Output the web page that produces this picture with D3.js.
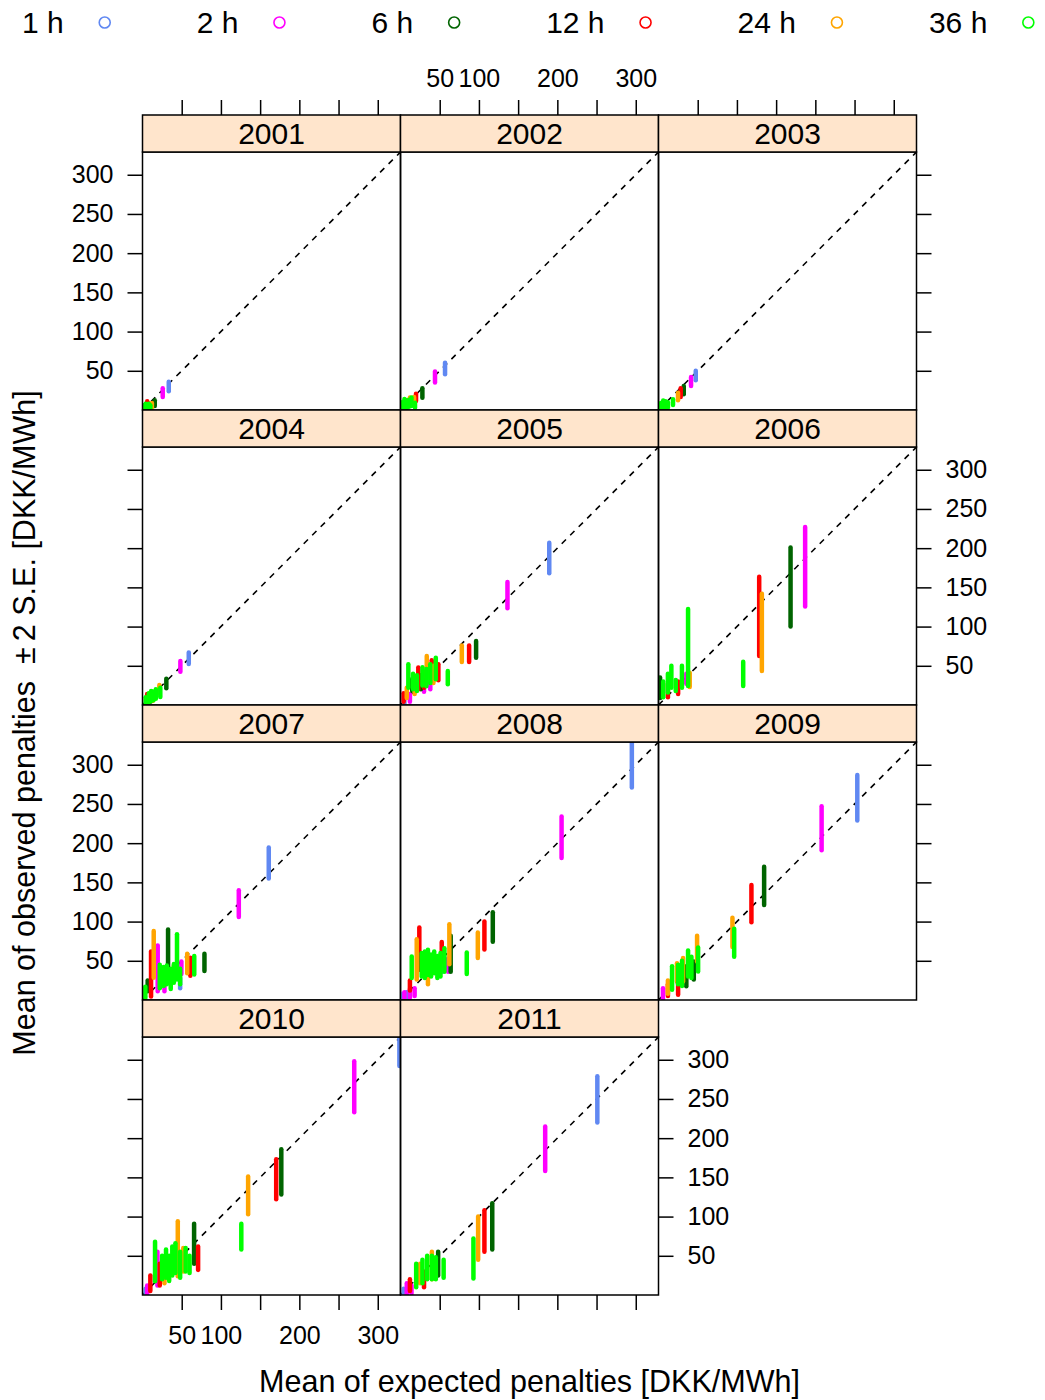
<!DOCTYPE html>
<html><head><meta charset="utf-8">
<script src="https://cdn.jsdelivr.net/npm/d3@7"></script>
<style>
body{margin:0;background:#fff}
svg{display:block}
text{font-family:"Liberation Sans",Arial,Helvetica,sans-serif;fill:#000}
</style>
</head><body>
<svg id="chart" width="1045" height="1400"></svg>
<script>
// ---------- data ----------
const horizons = ["1 h", "2 h", "6 h", "12 h", "24 h", "36 h"];
const horizonColors = ["#6088F2", "#FF00FF", "#006400", "#FF0000", "#FFA500", "#00FF00"];
const years = ["2001","2002","2003","2004","2005","2006","2007","2008","2009","2010","2011"];
const xTickValues = [50, 100, 150, 200, 250, 300];
const xTickLabels = ["50", "100", "", "200", "", "300"];
const yTickValues = [50, 100, 150, 200, 250, 300];
const axisDomain = [0, 329];
const xTitle = "Mean of expected penalties [DKK/MWh]";
const yTitle = "Mean of observed penalties\u00A0\u00A0\u00B1\u20092 S.E. [DKK/MWh]";

// rows: [horizon index, mean expected, mean observed - 2SE, mean observed + 2SE]
const d2001 = [[0,33.5,24,36],[1,25.8,16.6,27.7],[2,15.6,5,12.4],[2,4,1,6],[3,6,2,11],[3,9,2,8],
  [4,12,3,9],[4,10,2,7],[5,2,0.5,6],[5,4,1,8],[5,6,1,7],[5,8,2,8],[5,10,1,6]];
const d2002 = [[0,56.8,45.6,60.4],[1,44,35,49],[2,27.9,15.7,27.7],[3,19.8,11.5,20.8],[4,17.3,9.3,16.6],
  [4,12,6,16],[3,8,3,12],[5,18.5,3,9.3],[5,2,1,10],[5,5,2,14],[5,8,3,12],[5,11,4,13],[5,14,5,16]];
const d2003 = [[0,47.5,38,50],[1,41.5,30.6,42],[2,32.2,20,30.6],[3,28.3,16.6,27.7],[4,24.9,12.4,22],
  [5,18.5,6.4,13.6],[2,5,1,8],[5,3,1,9],[5,6,2,12],[5,9,3,11],[5,12,3,10]];
const d2004 = [[0,59,52.2,67],[1,48.3,42.5,56],[2,30.4,21.3,33.6],[4,21.5,15.7,25.5],[1,5,1,6],
  [3,6,2,14],[2,10,4,12],[4,13,5,17],[5,22.7,10.2,22],[5,4,1,10],[5,8,3,15],[5,11,5,18],[5,14,6,17],[5,17,8,20]];
const d2005 = [[0,189.7,168,207],[0,5,2,8],[1,136.4,123.5,157],[1,30,17,27],[1,38,20,30],[1,12,4,14],
  [2,96.4,60.4,81.7],[2,15,18,33],[2,26,20,38],[3,87.5,54.7,76],[3,22.7,20,47.7],[3,39.8,30.6,57],[3,48.3,31.5,52],[3,4,4,15],[3,30,22,42],
  [4,78.2,54.7,76],[4,33.5,35,62.6],[4,8,9,22],[4,18,14,34],[4,42,28,50],
  [5,60.3,26.4,43.4],[5,10,22,52],[5,45,32.8,60.4],[5,16,20,40],[5,28,25,48],[5,38,28,52],[5,21,18,38],[5,33,24,46]];
const d2006 = [[1,187,125.5,227],[1,35.5,27,40],[2,168.4,100,201],[2,2,9,35],[3,128.4,62.6,163.5],[3,25,14,30],[3,12,10,27],
  [4,131.8,43.4,142],[4,39.8,23,41],[5,108,24.3,55.3],[5,37.7,24.3,122.5],[5,16.4,22,50],[5,29.9,22,50],[5,12,16,40],[5,6,10,30],[5,22,18,32]];
const d2007 = [[0,161,155,194.5],[0,48,15,28],[1,122.8,106,140],[1,19.4,11,69.6],[1,49.6,33,49],[1,28,11,20],
  [2,79,37,59],[2,32.6,37,90],[2,6.6,11,25],[3,61,31,54],[3,10.9,4.5,62],[4,57,34,59],[4,14.3,28.5,88],[4,40,25,44],
  [5,66,32.6,56],[5,44,26,84],[5,3.6,2.5,17],[5,22,15,45],[5,27,18,42],[5,31,20,44],[5,36,14,40],[5,40,22,46],[5,48,20,40]];
const d2008 = [[0,295,271,360],[0,53.5,36,58],[0,3,1,8],[0,8,2,10],[1,205.4,181,234],[1,60.7,36,53],[1,5,1,10],[1,12,3,14],[1,18,5,15],
  [2,117.7,74.4,112],[2,64,36,82],[3,107,64.5,100],[3,24,38.6,92.6],[3,52.6,49.2,74],[3,12,12,25],
  [4,98.6,53.4,86],[4,62.3,45.5,96.6],[4,20.7,26,77.5],[4,35,20,40],
  [5,84.5,33,60.7],[5,14.3,28,55.5],[5,27,30,60],[5,31,28,62],[5,35,32,64],[5,39,30,58],[5,43,34,62],[5,47,28,56],[5,51,30,60],[5,56,36,66]];
const d2009 = [[0,253.5,229,287],[1,208,191,247],[1,5.7,0.6,15],[2,134.7,121,170],[2,45,26,49],[2,35.5,17.4,43],
  [3,118.5,99,146.5],[3,25,6.6,32],[3,12,5,20],[4,94.3,67.5,105],[4,49.2,49,82],[4,31.3,23.6,53.4],[4,23.6,23.6,47],[4,12,8,25],
  [5,96.5,55,91],[5,50.5,36.4,67],[5,37.7,30,63],[5,17.3,13,43],[5,25,20,45],[5,30,18,50],[5,42,28,55]];
const d2010 = [[0,327.6,292,365],[0,4,0.5,8],[1,270,233,298],[1,6,1,12],[1,19,12,55],[2,177,128,186],[2,65.8,40,91],
  [3,170.5,122,173],[3,70.9,32,62],[3,10,5,25],[3,22,12,40],
  [4,134.7,103,151],[4,45,24,94],[4,28,15,45],[4,52,30,60],
  [5,126,58,91],[5,16,17.5,68],[5,25,20,50],[5,30,22,58],[5,34,18,50],[5,38,25,62],[5,42,28,66],[5,48,22,55],[5,55,30,60],[5,60,28,50]];
const d2011 = [[0,251,220,279],[0,4,0.5,8],[1,184.5,158,215],[1,8,0.5,15],[1,14,2,12],[2,117,58,117],[2,48,25,55],
  [3,107,55,108],[3,12,5,20],[3,30,10,30],[4,99,45,100],[4,25,15,40],[4,40,20,55],
  [5,93,21,72],[5,20,10,40],[5,28,15,45],[5,34,20,50],[5,40,20,50],[5,45,20,48],[5,55,22,45]];
const panelData = [d2001,d2002,d2003,d2004,d2005,d2006,d2007,d2008,d2009,d2010,d2011];

// ---------- layout ----------
const svg = d3.select("#chart");
const left0 = 142.5, top0 = 115, pw = 258, ph = 258, sh = 37, ncol = 3;
const tickFont = 25, mainFont = 30.5;

const x = d3.scaleLinear().domain(axisDomain).range([0, pw]);
const y = d3.scaleLinear().domain(axisDomain).range([ph, 0]);

// legend
const leg = svg.append("g");
let lx = 22;
horizons.forEach((h, i) => {
  const t = leg.append("text").attr("x", lx).attr("y", 33).attr("font-size", 30).text(h);
  const tw = t.node().getComputedTextLength();
  const cx = lx + tw + 41;
  leg.append("circle").attr("cx", cx).attr("cy", 22.5).attr("r", 5.5)
    .attr("fill", "none").attr("stroke", horizonColors[i]).attr("stroke-width", 1.6);
  lx = cx + 92;
});

const nRows = Math.ceil(years.length / ncol);
years.forEach((yr, k) => {
  const c = k % ncol, r = Math.floor(k / ncol);
  const px = left0 + c * pw;
  const sy = top0 + r * (sh + ph);
  const py = sy + sh;
  const g = svg.append("g").attr("transform", `translate(${px},${py})`);

  // strip
  svg.append("rect").attr("x", px).attr("y", sy).attr("width", pw).attr("height", sh)
    .attr("fill", "#FFE5CC").attr("stroke", "#000").attr("stroke-width", 1.5);
  svg.append("text").attr("x", px + pw / 2).attr("y", sy + sh / 2 + 10.5)
    .attr("text-anchor", "middle").attr("font-size", 30).text(yr);

  const cid = "clip" + k;
  g.append("clipPath").attr("id", cid).append("rect").attr("width", pw).attr("height", ph);
  const inner = g.append("g").attr("clip-path", `url(#${cid})`);

  inner.append("line").attr("x1", x(axisDomain[0])).attr("y1", y(axisDomain[0]))
    .attr("x2", x(axisDomain[1])).attr("y2", y(axisDomain[1]))
    .attr("stroke", "#000").attr("stroke-width", 1.6).attr("stroke-dasharray", "6,6");

  const rows = panelData[k].slice().sort((a, b) => a[0] - b[0]);
  inner.selectAll("line.bar").data(rows).join("line").attr("class", "bar")
    .attr("x1", d => x(d[1])).attr("x2", d => x(d[1]))
    .attr("y1", d => y(d[2])).attr("y2", d => y(d[3]))
    .attr("stroke", d => horizonColors[d[0]]).attr("stroke-width", 4.5).attr("stroke-linecap", "round");

  g.append("rect").attr("width", pw).attr("height", ph)
    .attr("fill", "none").attr("stroke", "#000").attr("stroke-width", 1.5);

  // axes
  const lastInRow = (c === ncol - 1) || (k === years.length - 1);
  const styleAxis = a => {
    a.select(".domain").remove();
    a.selectAll(".tick line").attr("stroke", "#000").attr("stroke-width", 1.5);
    a.selectAll(".tick text").attr("font-size", tickFont)
      .attr("font-family", '"Liberation Sans",Arial,Helvetica,sans-serif').attr("fill", "#000");
  };
  if (r === 0) {
    const ax = d3.axisTop(x).tickValues(xTickValues).tickSize(15).tickPadding(13)
      .tickFormat((d, i) => c === 1 ? xTickLabels[i] : "");
    g.append("g").attr("transform", `translate(0,${-sh})`).call(ax).call(styleAxis);
  }
  if (r === nRows - 1) {
    const ax = d3.axisBottom(x).tickValues(xTickValues).tickSize(15).tickPadding(16)
      .tickFormat((d, i) => c === 0 ? xTickLabels[i] : "");
    g.append("g").attr("transform", `translate(0,${ph})`).call(ax).call(styleAxis);
  }
  if (c === 0) {
    const ax = d3.axisLeft(y).tickValues(yTickValues).tickSize(15).tickPadding(14)
      .tickFormat(d => r % 2 === 0 ? d : "");
    g.append("g").call(ax).call(styleAxis);
  }
  if (lastInRow) {
    const ax = d3.axisRight(y).tickValues(yTickValues).tickSize(15).tickPadding(14)
      .tickFormat(d => r % 2 === 1 ? d : "");
    g.append("g").attr("transform", `translate(${pw},0)`).call(ax).call(styleAxis);
  }
});

// titles
svg.append("text").attr("x", left0 + ncol * pw / 2).attr("y", 1392)
  .attr("text-anchor", "middle").attr("font-size", mainFont).text(xTitle);
svg.append("text").attr("transform", "translate(35,723) rotate(-90)")
  .attr("text-anchor", "middle").attr("font-size", mainFont).text(yTitle);
</script>
</body></html>
